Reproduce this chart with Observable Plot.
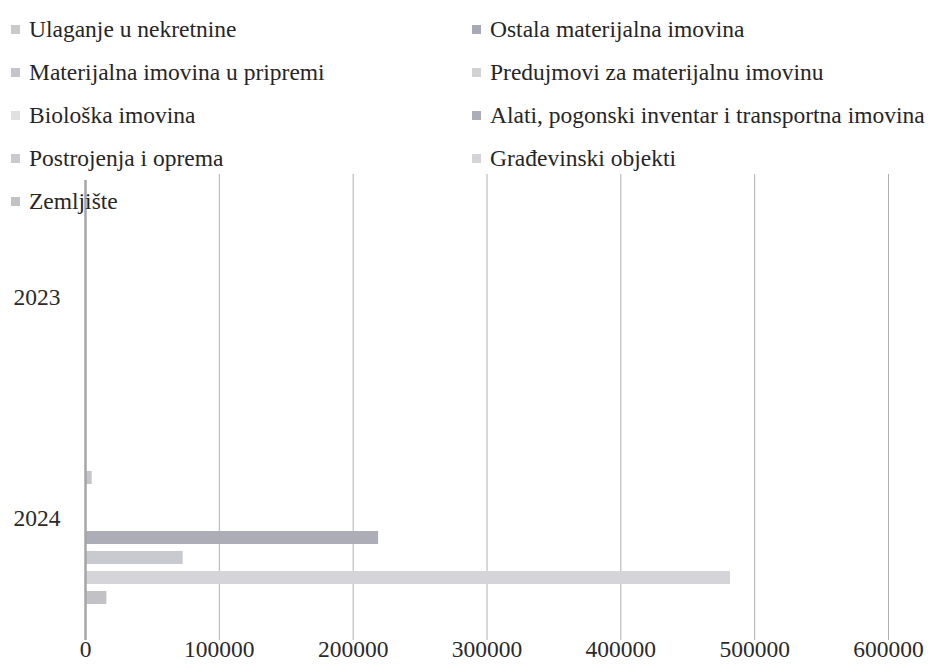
<!DOCTYPE html>
<html>
<head>
<meta charset="utf-8">
<script src="https://cdn.jsdelivr.net/npm/d3@7"></script>
<script src="https://cdn.jsdelivr.net/npm/@observablehq/plot@0.6"></script>
<style>
  html, body { margin: 0; padding: 0; background: #fff; }
  #wrap { position: relative; width: 940px; height: 666px; overflow: hidden; }
  #wrap svg text { font-family: "Liberation Serif", "Times New Roman", serif !important; font-size: 23.5px !important; fill: #2a2a2a; }
  #legend { position: absolute; top: 8px; left: 11px; display: grid; grid-template-columns: 461px 478px; grid-auto-rows: 43px; }
  #legend .item, #legend .item span { font-family: "Liberation Serif", "Times New Roman", serif !important; font-size: 23.5px !important; color: #262626; }
  .item { display: flex; align-items: center; white-space: nowrap; }
  .sw { display: inline-block; width: 9px; height: 9px; margin-right: 9px; flex: none; }
</style>
</head>
<body>
<div id="wrap"><div id="legend"></div></div>
<script>
const years = ["2023", "2024"];
const series = [
  "Zemljište",
  "Građevinski objekti",
  "Postrojenja i oprema",
  "Alati, pogonski inventar i transportna imovina",
  "Biološka imovina",
  "Predujmovi za materijalnu imovinu",
  "Materijalna imovina u pripremi",
  "Ostala materijalna imovina",
  "Ulaganje u nekretnine"
];
const values2023 = [0, 0, 0, 0, 0, 0, 0, 0, 0];
const values2024 = [16000, 482000, 73000, 219000, 0, 0, 5000, 0, 0];
const colors = ["#c2c2c6", "#d4d4d9", "#c9c9d0", "#adadb8", "#e0e0e2", "#d2d2d4", "#c4c4cc", "#a9a9b6", "#cacaca"];
const xTicks = [0, 100000, 200000, 300000, 400000, 500000, 600000];

const rows = [];
years.forEach((yr, k) => {
  const vals = k === 0 ? values2023 : values2024;
  series.forEach((s, i) => rows.push({year: yr, series: s, value: vals[i]}));
});
const topDown = series.slice().reverse();
const grid = years.flatMap(yr => xTicks.slice(1).map(t => ({year: yr, x: t})));
const axis0 = years.map(yr => ({year: yr, x: 0}));

const chart = Plot.plot({
  width: 940,
  height: 666,
  marginLeft: 85,
  marginRight: 52,
  marginTop: 186,
  marginBottom: 38,
  style: {background: "white", fontFamily: "Liberation Serif", fontSize: "23.5px"},
  x: {domain: [0, 600000], ticks: xTicks, tickSize: 0, tickPadding: 12, tickFormat: d => String(d), label: null},
  y: {domain: topDown, axis: null, paddingInner: 0.33, paddingOuter: 0.93},
  fy: {domain: years, padding: 0, axis: "left", tickSize: 0, tickPadding: 25, label: null},
  color: {domain: series, range: colors},
  marks: [
    Plot.ruleX(grid.filter(d => d.year === "2023"), {x: "x", fy: "year", stroke: "#b0b0b0", strokeWidth: 1, insetTop: -12}),
    Plot.ruleX(grid.filter(d => d.year === "2024"), {x: "x", fy: "year", stroke: "#b0b0b0", strokeWidth: 1, insetBottom: -12}),
    Plot.barX(rows, {x: "value", y: "series", fy: "year", fill: "series"}),
    Plot.ruleX(axis0.filter(d => d.year === "2023"), {x: "x", fy: "year", stroke: "#a6a6a6", strokeWidth: 2.5, insetTop: -6}),
    Plot.ruleX(axis0.filter(d => d.year === "2024"), {x: "x", fy: "year", stroke: "#a6a6a6", strokeWidth: 2.5, insetBottom: -12})
  ]
});
document.getElementById("wrap").prepend(chart);

const legend = document.getElementById("legend");
topDown.forEach(s => {
  const it = document.createElement("div");
  it.className = "item";
  const sw = document.createElement("span");
  sw.className = "sw";
  sw.style.background = colors[series.indexOf(s)];
  const t = document.createElement("span");
  t.textContent = s;
  it.appendChild(sw);
  it.appendChild(t);
  legend.appendChild(it);
});
</script>
</body>
</html>
